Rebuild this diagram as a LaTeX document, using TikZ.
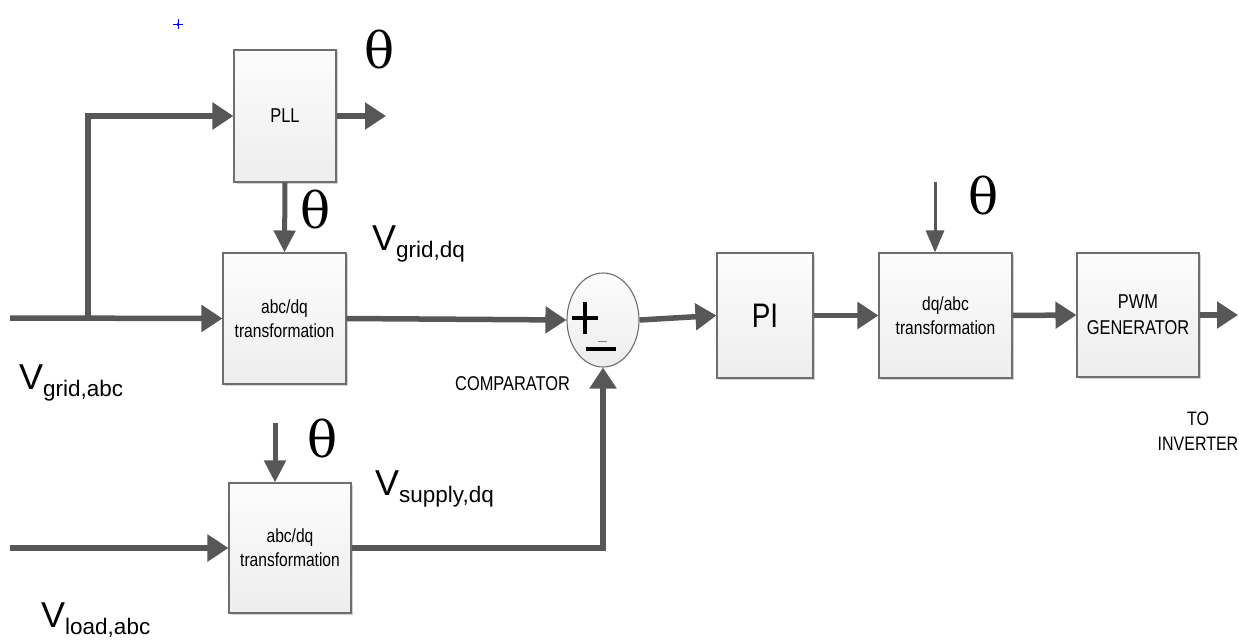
\documentclass[tikz,border=0pt]{standalone}
\usepackage{fontspec}
\setmainfont{Liberation Sans}
\newfontfamily\narrowfont[FakeStretch=0.82]{Liberation Sans}
\newfontfamily\thetafont{DejaVu Serif}
\usetikzlibrary{arrows.meta,shapes.geometric,shadows}

\definecolor{wire}{HTML}{575757}
\definecolor{rim}{HTML}{6E6E6E}

\tikzset{
  block/.style={draw=rim, line width=1.1pt, top color=gray!2, bottom color=gray!14,
    drop shadow={shadow xshift=1.5pt, shadow yshift=-1.5pt, opacity=0.35, fill=gray},
    align=center, inner sep=0pt, text=black},
  sumnode/.style={ellipse, draw=rim, line width=1.1pt, top color=gray!2, bottom color=gray!14,
    inner sep=0pt},
  bigflow/.style={draw=wire, line width=5.5pt, -{Triangle[length=21pt,width=26pt]}},
  thetain/.style={draw=wire, line width=5pt, -{Triangle[length=22pt,width=21pt]}},
  thinin/.style={draw=wire, line width=3pt, -{Triangle[length=22pt,width=18pt]}},
  thetalbl/.style={font=\thetafont\fontsize{50}{50}\selectfont, inner sep=0pt},
  boxtext/.style={font=\narrowfont\fontsize{19}{24}\selectfont},
  siglbl/.style={anchor=base west, inner sep=0pt},
  signs/.style={draw=black, line width=3.4pt},
}

% voltage label: V with a lowered subscript
\newcommand{\vsig}[1]{{\fontsize{36}{36}\selectfont V}\raisebox{-7.5pt}{\fontsize{22.5}{22.5}\selectfont #1}}

\begin{document}
\begin{tikzpicture}[x=1pt, y=-1pt]
  \useasboundingbox (0,0) rectangle (1239,642);

  % small blue marker
  \draw[blue, line width=0.8pt] (173,24.5) -- (183,24.5) (178,19.5) -- (178,29.5);
  \fill[blue] (178,24.5) circle (1.6pt);

  % blocks
  \node[block, minimum width=102pt, minimum height=132pt, font=\narrowfont\fontsize{20}{20}\selectfont]
    (pll) at (285,116) {PLL};
  \node[block, boxtext, minimum width=123pt, minimum height=131pt]
    (tr1) at (284.5,318.5) {abc/dq\\transformation};
  \node[block, boxtext, minimum width=122pt, minimum height=130pt]
    (tr2) at (290,548) {abc/dq\\transformation};
  \node[block, minimum width=96pt, minimum height=125pt, font=\narrowfont\fontsize{34}{34}\selectfont]
    (pi) at (765,315.5) {PI};
  \node[block, boxtext, minimum width=133pt, minimum height=125pt]
    (inv) at (945.5,315.5) {dq/abc\\transformation};
  \node[block, minimum width=122pt, minimum height=124pt, font=\narrowfont\fontsize{20}{26}\selectfont]
    (pwm) at (1138,315) {PWM\\GENERATOR};

  % comparator with its signs
  \node[sumnode, minimum width=72pt, minimum height=94pt] (cmp) at (603,320) {};
  \draw[signs] (572,318) -- (598,318) (585,302) -- (585,334);
  \draw[signs] (586,349) -- (616,349);
  \draw[gray, line width=1.2pt] (598,341.5) -- (607,341.5);

  % free ends of the connectors
  \coordinate (gin) at (10,318);
  \coordinate (tap) at (88,318);
  \coordinate (lin) at (10,548);
  \coordinate (pllout) at (386,116);
  \coordinate (out) at (1238,315);
  \coordinate (th2) at (275,423);
  \coordinate (th3) at (935,182);

  % connectors
  \draw[bigflow] (gin) -- (tr1.west);
  \draw[bigflow] (tap) |- (pll.west);
  \draw[bigflow] (pll.east) -- (pllout);
  \draw[thetain] (pll.south) -- (tr1.north);
  \draw[bigflow] (tr1.east) -- (cmp.west);
  \draw[bigflow] (lin) -- (tr2.west);
  \draw[bigflow] (tr2.east) -| (cmp.south);
  \draw[bigflow] (cmp.east) -- (pi.west);
  \draw[bigflow] (pi.east) -- (inv.west);
  \draw[bigflow] (inv.east) -- (pwm.west);
  \draw[bigflow] (pwm.east) -- (out);
  \draw[thetain] (th2) -- (th2 |- tr2.north);
  \draw[thinin] (th3) -- (th3 |- inv.north);

  % angle labels
  \node[thetalbl] (t1) at (380,50) {θ};
  \node[thetalbl] (t2) at (316,210) {θ};
  \node[thetalbl] (t3) at (323,439) {θ};
  \node[thetalbl] (t4) at (984,196) {θ};

  % signal labels
  \node[siglbl] (vga) at (19,389) {\vsig{grid,abc}};
  \node[siglbl] (vgd) at (372,250) {\vsig{grid,dq}};
  \node[siglbl] (vsd) at (375,495) {\vsig{supply,dq}};
  \node[siglbl] (vla) at (41,627) {\vsig{load,abc}};

  \node[anchor=base west, inner sep=0pt, font=\narrowfont\fontsize{20}{20}\selectfont]
    (cmplbl) at (455,390) {COMPARATOR};
  \node[align=center, inner sep=0pt, font=\narrowfont\fontsize{19.5}{25}\selectfont]
    (tolbl) at (1198,431) {TO\\INVERTER};
\end{tikzpicture}
\end{document}
